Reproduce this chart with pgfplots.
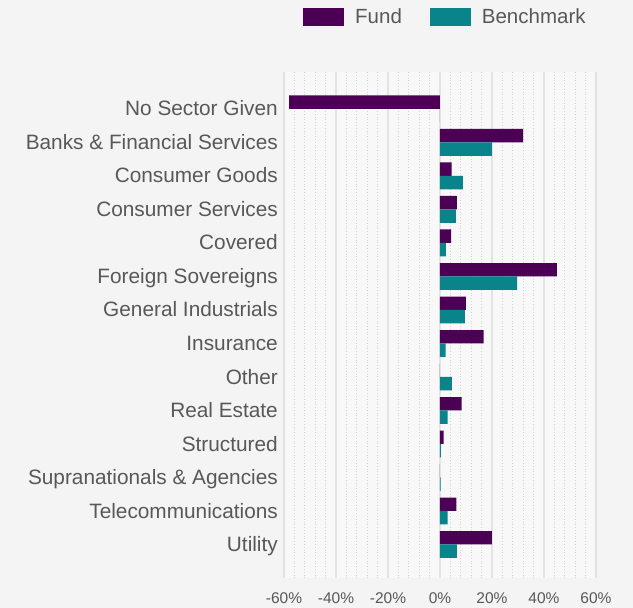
\documentclass[border=0pt]{standalone}
\usepackage{pgfplots}
\pgfplotsset{compat=1.18}
\usepackage{fontspec}
\setmainfont{Liberation Sans}
\definecolor{fundc}{RGB}{75,0,86}
\definecolor{benchc}{RGB}{8,132,138}
\definecolor{textc}{RGB}{88,88,88}
\definecolor{bgc}{RGB}{244,244,244}
\definecolor{plotbg}{RGB}{248,248,248}
\begin{document}
\begin{tikzpicture}
\fill[bgc] (0,0) rectangle (633bp,608bp);
\begin{axis}[
  at={(284bp,30bp)}, anchor=south west,
  width=312bp, height=506bp, scale only axis,
  xmin=-60, xmax=60, ymin=-1.1, ymax=14, y dir=reverse,
  xbar, bar width=0.4,
  axis background/.style={fill=plotbg},
  xtick={-60,-40,...,60},
  xticklabels={-60\%,-40\%,-20\%,0\%,20\%,40\%,60\%},
  minor x tick num=4,
  ytick={0,...,13},
  yticklabels={No Sector Given,Banks \& Financial Services,Consumer Goods,Consumer Services,Covered,Foreign Sovereigns,General Industrials,Insurance,Other,Real Estate,Structured,Supranationals \& Agencies,Telecommunications,Utility},
  major tick length=0pt, minor tick length=0pt,
  xmajorgrids, xminorgrids,
  major grid style={draw=black!11, line width=1.4bp},
  minor grid style={draw=black!16, line width=0.8bp, dotted},
  axis line style={draw=none},
  xticklabel style={font=\fontsize{15.5bp}{18bp}\selectfont, text=textc, yshift=-11bp},
  yticklabel style={font=\fontsize{20.8bp}{25bp}\selectfont, text=textc, inner sep=0pt, xshift=-6bp, text height=0.716em, text depth=0pt, yshift=-3.5bp},
  legend columns=2,
  legend style={at={(rel axis cs:0,1)}, anchor=south west, xshift=19bp, yshift=46bp,
    draw=none, fill=none, inner sep=0pt,
    font=\fontsize{20.5bp}{24bp}\selectfont, text=textc,
    nodes={inner sep=0pt},
    /tikz/every odd column/.append style={column sep=11bp},
    /tikz/every even column/.append style={column sep=28bp}},
  legend image code/.code={\fill[#1] (0bp,-9bp) rectangle (41bp,9bp);},
]
\addplot[fill=fundc, draw=none, bar shift=-0.2] coordinates {
(-58,0) (32,1) (4.5,2) (6.5,3) (4.3,4) (45,5) (10,6) (16.8,7) (0,8) (8.3,9) (1.4,10) (0,11) (6.3,12) (20,13)};
\addlegendentry{Fund}
\addplot[fill=benchc, draw=none, bar shift=0.2] coordinates {
(0,0) (20,1) (8.8,2) (6.1,3) (2.3,4) (29.7,5) (9.6,6) (2.2,7) (4.6,8) (2.9,9) (0.3,10) (0.2,11) (2.9,12) (6.5,13)};
\addlegendentry{Benchmark}
\end{axis}
\pgfresetboundingbox
\path[use as bounding box] (0,0) rectangle (633bp,608bp);
\end{tikzpicture}
\end{document}
